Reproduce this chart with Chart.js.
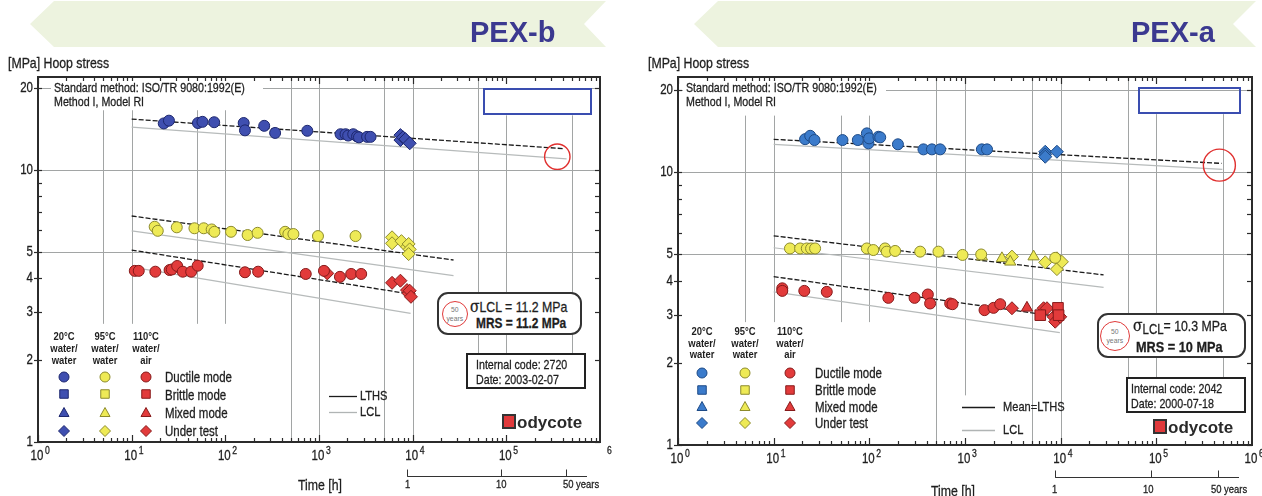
<!DOCTYPE html>
<html>
<head>
<meta charset="utf-8">
<title>Hoop stress - PEX-b / PEX-a</title>
<script src="https://cdn.jsdelivr.net/npm/chart.js@4.4.1/dist/chart.umd.min.js"></script>
<style>
    html, body { margin: 0; padding: 0; }
    body {
        width: 1262px; height: 496px; position: relative; overflow: hidden; background: #fff;
        font-family: "Liberation Sans", Arial, sans-serif; color: #1e1e1e;
    }
    canvas { position: absolute; top: 0; }
    .abs { position: absolute; white-space: nowrap; line-height: 1; }
    /* Liberation Sans squeezed to Arial Narrow proportions */
    .n { transform: scaleX(0.82); transform-origin: 0 0; -webkit-text-stroke: 0.3px #1e1e1e; }
    .pex { position: absolute; top: 16px; font: bold 29px "Liberation Sans", Arial, sans-serif; color: #3b3990; }
    .method { position: absolute; top: 81px; height: 28px; background: #fff; }
    .method div { position: absolute; left: 3px; top: 0; font-size: 13px; line-height: 14px; white-space: nowrap; }
    .bluebox { position: absolute; border: 2px solid #3a4db0; box-sizing: border-box; }
    .hdr { position: absolute; width: 50px; font-weight: bold; font-size: 11.5px; line-height: 12px; text-align: center; transform: scaleX(0.82); transform-origin: 50% 0; }
    .mode { position: absolute; font-size: 14px; }
    .key { position: absolute; font-size: 13.5px; }
    .rbox { position: absolute; border: 2px solid #333; border-radius: 11px; background: #fff; box-sizing: border-box; }
    .c50 { position: absolute; border: 1.5px solid #e03a3a; border-radius: 50%; box-sizing: border-box; text-align: center; color: #777; font-size: 8px; line-height: 9px; padding-top: 3px; }
    .c50 span { display: inline-block; transform: scaleX(0.85); }
    .sig { position: absolute; font-size: 15px; }
    .sig i { font-family: "DejaVu Serif", serif; font-style: normal; font-size: 17px; }
    .sig sub { font-size: 14px; vertical-align: -3px; }
    .mrs { position: absolute; font-weight: bold; }
    .code { position: absolute; border: 2px solid #222; background: #fff; box-sizing: border-box; }
    .code div { position: absolute; top: 2px; font-size: 13px; line-height: 15px; white-space: nowrap; }
    .logo { position: absolute; font: bold 17px "Liberation Sans", Arial, sans-serif; color: #2a2a2a; white-space: nowrap; line-height: 1; }
    .logo span { display: inline-block; width: 10px; height: 11px; background: #e0393b; border: 2px solid #333; color: transparent; overflow: hidden; vertical-align: -1px; margin-right: 1px; font-size: 10px; }
    .yr { position: absolute; font-size: 11.5px; }
</style>
</head>
<body>

<svg class="abs" width="1262" height="50" style="left:0;top:0">
    <polygon points="30,24 54,1 606,1 584,24 606,47 54,47" fill="#edf3df"/>
    <polygon points="694,24 718,1 1256,1 1233,24 1256,47 718,47" fill="#edf3df"/>
</svg>

<canvas id="pexb" width="640" height="496" style="left:0"></canvas>
<canvas id="pexa" width="622" height="496" style="left:640px"></canvas>

<!-- PEX-b (left) -->
<div class="pex" style="left:470px">PEX-b</div>
<div class="abs n" style="left:8px;top:55px;font-size:15px">[MPa] Hoop stress</div>
<div class="method" style="left:51px;width:212px"><div class="n">Standard method: ISO/TR 9080:1992(E)<br>Method I, Model RI</div></div>
<div class="bluebox" style="left:483px;top:88px;width:109px;height:27px"></div>
<div class="hdr" style="left:39px;top:330px">20°C<br>water/<br>water</div>
<div class="hdr" style="left:80px;top:330px">95°C<br>water/<br>water</div>
<div class="hdr" style="left:121px;top:330px">110°C<br>water/<br>air</div>
<div class="abs n mode" style="left:165px;top:370px">Ductile mode</div>
<div class="abs n mode" style="left:165px;top:388px">Brittle mode</div>
<div class="abs n mode" style="left:165px;top:406px">Mixed mode</div>
<div class="abs n mode" style="left:165px;top:424px">Under test</div>
<div class="abs n key" style="left:360px;top:389px">LTHS</div>
<div class="abs n key" style="left:360px;top:405px">LCL</div>
<div class="rbox" style="left:437px;top:292px;width:145px;height:43px">
    <div class="c50" style="left:3px;top:7px;width:26px;height:26px"><span>50<br>years</span></div>
    <div class="abs n sig" style="left:31px;top:4px"><i>σ</i>LCL = 11.2 MPa</div>
    <div class="abs n mrs" style="left:37px;top:22px;font-size:14.5px">MRS = 11.2 MPa</div>
</div>
<div class="code" style="left:466px;top:353px;width:120px;height:36px"><div class="n" style="left:8px">Internal code: 2720<br>Date: 2003-02-07</div></div>
<div class="logo" style="left:502px;top:414px"><span>B</span>odycote</div>
<div class="abs n" style="left:298px;top:477px;font-size:15px">Time [h]</div>
<div class="abs n yr" style="left:405px;top:479px">1</div>
<div class="abs n yr" style="left:496px;top:479px">10</div>
<div class="abs n yr" style="left:563px;top:479px">50 years</div>

<!-- PEX-a (right) -->
<div class="pex" style="left:1131px">PEX-a</div>
<div class="abs n" style="left:648px;top:55px;font-size:15px">[MPa] Hoop stress</div>
<div class="method" style="left:683px;width:203px"><div class="n">Standard method: ISO/TR 9080:1992(E)<br>Method I, Model RI</div></div>
<div class="bluebox" style="left:1138px;top:87px;width:103px;height:27px"></div>
<div class="hdr" style="left:677px;top:326px;line-height:11.5px">20°C<br>water/<br>water</div>
<div class="hdr" style="left:720px;top:326px;line-height:11.5px">95°C<br>water/<br>water</div>
<div class="hdr" style="left:765px;top:326px;line-height:11.5px">110°C<br>water/<br>air</div>
<div class="abs n mode" style="left:815px;top:366px">Ductile mode</div>
<div class="abs n mode" style="left:815px;top:383px">Brittle mode</div>
<div class="abs n mode" style="left:815px;top:400px">Mixed mode</div>
<div class="abs n mode" style="left:815px;top:416px">Under test</div>
<div class="abs n key" style="left:1003px;top:400px">Mean=LTHS</div>
<div class="abs n key" style="left:1003px;top:423px">LCL</div>
<div class="rbox" style="left:1097px;top:313px;width:149px;height:45px">
    <div class="c50" style="left:1px;top:6px;width:30px;height:30px;padding-top:5px"><span>50<br>years</span></div>
    <div class="abs n sig" style="left:34px;top:2px"><i>σ</i><sub>LCL</sub>= 10.3 MPa</div>
    <div class="abs n mrs" style="left:37px;top:24px;font-size:15.5px">MRS = 10 MPa</div>
</div>
<div class="code" style="left:1126px;top:377px;width:120px;height:36px"><div class="n" style="left:3px">Internal code: 2042<br>Date: 2000-07-18</div></div>
<div class="logo" style="left:1153px;top:419px"><span>B</span>odycote</div>
<div class="abs n" style="left:931px;top:483px;font-size:15px">Time [h]</div>
<div class="abs n yr" style="left:1052px;top:484px">1</div>
<div class="abs n yr" style="left:1143px;top:484px">10</div>
<div class="abs n yr" style="left:1211px;top:484px">50 years</div>

<script>
// axes
const timeDecades = [1, 10, 100, 1000, 10000, 100000, 1000000];
const stressTicks = [1, 2, 3, 4, 5, 10, 20];
const stressMinor = [6, 7, 8, 9];
const gridTimes = [5, 10, 50, 100, 500, 1000, 5000, 10000, 50000, 100000, 500000];
const gridStress = [5, 10, 20];
const yearMarks = [1, 10, 50];
const HOURS_PER_YEAR = 8760;

// PEX-b points [time h, hoop stress MPa]
const pexbBlueDuctile = [[22,14.85],[25,15.2],[51,14.9],[57,15.05],[76,15.0],[157,14.9],[162,14.0],[260,14.55],[340,13.7],[750,13.95],[1700,13.55],[1920,13.55],[2050,13.4],[2320,13.55],[2550,13.3],[2670,13.2],[3260,13.25],[3550,13.25]];
const pexbBlueUnderTest = [[7400,13.45],[7400,12.9],[7900,13.2],[8360,13.0],[9300,12.55]];
const pexbYellowDuctile = [[17.6,6.19],[19,5.98],[30.3,6.16],[46.8,6.11],[58.8,6.11],[71.5,6.05],[76.4,5.93],[115,5.93],[173,5.77],[221,5.88],[435,5.93],[471,5.82],[533,5.82],[975,5.72],[2455,5.72]];
const pexbYellowUnderTest = [[6025,5.66],[6025,5.38],[7590,5.48],[8700,5.22],[9060,5.35],[9290,5.11],[9060,4.91]];
const pexbRedDuctile = [[10.8,4.26],[11.9,4.26],[17.9,4.23],[25.4,4.29],[26.8,4.31],[30.6,4.44],[35.1,4.23],[43.2,4.23],[50.7,4.45],[162,4.21],[224,4.23],[722,4.15],[1130,4.26],[1673,4.05],[2206,4.15],[2820,4.15]];
const pexbRedUnderTest = [[1225,4.17],[6025,3.85],[7400,3.92],[8700,3.62],[9060,3.52],[9300,3.6],[9590,3.42]];
// PEX-b regression lines
const pexbLthsBlue = [[10,15.4],[400000,12.0]];
const pexbLclBlue = [[10,14.4],[440000,11.0]];
const pexbLthsYellow = [[10,6.78],[27300,4.67]];
const pexbLclYellow = [[10,5.98],[27300,4.09]];
const pexbLthsRed = [[10,5.08],[9500,3.5]];
const pexbLclRed = [[10,4.4],[9500,2.97]];

// PEX-a points
const pexaBlueDuctile = [[21.3,13.2],[24.1,13.58],[26.7,13.1],[52.4,13.1],[75.8,13.1],[94.2,13.86],[97.9,12.74],[99.5,13.29],[124.5,13.47],[130,13.4],[199,12.64],[368,12.11],[451,12.11],[550,12.11],[1500,12.11],[1700,12.11]];
const pexaBlueUnderTest = [[6900,11.87],[6900,11.6],[6900,11.38],[9140,11.87]];
const pexaYellowDuctile = [[14.8,5.25],[18.9,5.25],[22.2,5.25],[24.6,5.25],[27.1,5.25],[94.2,5.25],[110,5.18],[146,5.25],[152,5.11],[186,5.14],[340,5.11],[528,5.11],[942,4.97],[1476,4.99],[8770,4.85]];
const pexaYellowMixed = [[1503,4.9],[2432,4.83],[2972,4.69],[5210,4.9]];
const pexaYellowUnderTest = [[3096,4.9],[6900,4.67],[9140,4.83],[9140,4.41],[10300,4.69]];
const pexaRedDuctile = [[12.3,3.75],[12.3,3.67],[20.9,3.67],[35.9,3.64],[158,3.46],[297,3.46],[409,3.56],[432,3.3],[700,3.3],[740,3.28],[1600,3.12],[1987,3.18],[2334,3.28]];
const pexaRedBrittle = [[6120,2.99],[9370,3.18],[9510,2.99]];
const pexaRedMixed = [[4443,3.18]];
const pexaRedUnderTest = [[3096,3.17],[6630,3.17],[7190,3.17],[8430,2.95],[8770,2.83],[9900,2.95]];
// PEX-a regression lines
const pexaLthsBlue = [[10,13.18],[480000,10.76]];
const pexaLclBlue = [[10,12.64],[490000,10.23]];
const pexaLthsYellow = [[10,5.84],[28100,4.2]];
const pexaLclYellow = [[10,5.28],[28100,3.78]];
const pexaLthsRed = [[10,4.14],[9800,2.95]];
const pexaLclRed = [[10,3.64],[9800,2.58]];

const FONT = '"Liberation Sans", Arial, sans-serif';
const yellow = { fill: '#eeea56', edge: '#8c8a2c' };
const red = { fill: '#e23b3b', edge: '#861a1a' };

const panels = [
    {
        canvas: 'pexb', yMax: 22,
        padding: { left: 38, right: 40, top: 77, bottom: 54 },
        colors: { blue: { fill: '#3f4fb0', edge: '#1d276e' }, yellow: yellow, red: red },
        points: [
            { data: pexbBlueDuctile, style: 'circle', color: 'blue' },
            { data: pexbBlueUnderTest, style: 'rectRot', color: 'blue' },
            { data: pexbYellowDuctile, style: 'circle', color: 'yellow' },
            { data: pexbYellowUnderTest, style: 'rectRot', color: 'yellow' },
            { data: pexbRedDuctile, style: 'circle', color: 'red' },
            { data: pexbRedUnderTest, style: 'rectRot', color: 'red' }
        ],
        lines: [
            { data: pexbLclBlue, kind: 'lcl' }, { data: pexbLthsBlue, kind: 'lths' },
            { data: pexbLclYellow, kind: 'lcl' }, { data: pexbLthsYellow, kind: 'lths' },
            { data: pexbLclRed, kind: 'lcl' }, { data: pexbLthsRed, kind: 'lths' }
        ],
        gridSpan: { 5: [2.72, 16.6], 10: [2.72, 16.6], 50: [2.72, 16.6], 100: [2.72, 16.6],
                    50000: [2.1, 22], 100000: [2.1, 15.9], 500000: [2.1, 15.9] },
        legendCols: [64, 105, 146], legendRows: [377, 394, 413, 431],
        key: { x1: 329, x2: 357, lths: 396, lcl: 412 },
        ring: { t: 350000, s: 11.2, r: 12.7 },
        yearsGap: 34, showLastBase: false
    },
    {
        canvas: 'pexa', yMax: 22.3,
        padding: { left: 38, right: 10, top: 77, bottom: 51 },
        colors: { blue: { fill: '#3b7bcb', edge: '#1d4a86' }, yellow: yellow, red: red },
        points: [
            { data: pexaBlueDuctile, style: 'circle', color: 'blue' },
            { data: pexaBlueUnderTest, style: 'rectRot', color: 'blue' },
            { data: pexaYellowDuctile, style: 'circle', color: 'yellow' },
            { data: pexaYellowMixed, style: 'triangle', color: 'yellow' },
            { data: pexaYellowUnderTest, style: 'rectRot', color: 'yellow' },
            { data: pexaRedDuctile, style: 'circle', color: 'red' },
            { data: pexaRedBrittle, style: 'rect', color: 'red' },
            { data: pexaRedMixed, style: 'triangle', color: 'red' },
            { data: pexaRedUnderTest, style: 'rectRot', color: 'red' }
        ],
        lines: [
            { data: pexaLclBlue, kind: 'lcl' }, { data: pexaLthsBlue, kind: 'lths' },
            { data: pexaLclYellow, kind: 'lcl' }, { data: pexaLthsYellow, kind: 'lths' },
            { data: pexaLclRed, kind: 'lcl' }, { data: pexaLthsRed, kind: 'lths' }
        ],
        gridSpan: { 5: [2.82, 16.1], 10: [2.82, 16.1], 50: [2.82, 16.1], 100: [2.82, 16.1],
                    1000: [1.52, 22.3], 50000: [1.77, 22.3], 100000: [1.77, 16.3], 500000: [1.77, 16.3] },
        legendCols: [62, 105, 150], legendRows: [373, 390, 407, 423],
        key: { x1: 322, x2: 355, lths: 407, lcl: 430 },
        ring: { t: 456000, s: 10.6, r: 16 },
        yearsGap: 32, showLastBase: true
    }
];

function toXY(arr) {
    return arr.map(p => ({ x: p[0], y: p[1] }));
}

function seg(ctx, x1, y1, x2, y2) {
    ctx.beginPath();
    ctx.moveTo(x1, y1);
    ctx.lineTo(x2, y2);
    ctx.stroke();
}

// narrow text on the canvas (same squeeze as the .n class)
function narrowText(ctx, text, px, py) {
    ctx.save();
    ctx.translate(px, py);
    ctx.scale(0.82, 1);
    ctx.fillText(text, 0, 0);
    ctx.lineWidth = 0.3;
    ctx.strokeStyle = ctx.fillStyle;
    ctx.strokeText(text, 0, 0);
    ctx.restore();
}

// legend swatches (not data)
function drawMarker(ctx, style, cx, cy, r, c) {
    ctx.beginPath();
    if (style === 'circle') {
        ctx.arc(cx, cy, r, 0, Math.PI * 2);
    } else if (style === 'rect') {
        ctx.rect(cx - r * 0.85, cy - r * 0.85, r * 1.7, r * 1.7);
    } else if (style === 'triangle') {
        ctx.moveTo(cx, cy - r * 1.1);
        ctx.lineTo(cx + r, cy + r * 0.7);
        ctx.lineTo(cx - r, cy + r * 0.7);
        ctx.closePath();
    } else {
        ctx.moveTo(cx, cy - r);
        ctx.lineTo(cx + r, cy);
        ctx.lineTo(cx, cy + r);
        ctx.lineTo(cx - r, cy);
        ctx.closePath();
    }
    ctx.fillStyle = c.fill;
    ctx.fill();
    ctx.strokeStyle = c.edge;
    ctx.lineWidth = 1;
    ctx.stroke();
}

function decor(p) {
    return {
        id: 'decor_' + p.canvas,
        beforeDatasetsDraw(chart) {
            const { ctx, chartArea: a, scales: { x, y } } = chart;
            ctx.save();
            ctx.strokeStyle = '#a2a5a5';
            ctx.lineWidth = 1;
            gridStress.forEach(v => {
                const py = Math.round(y.getPixelForValue(v)) + 0.5;
                seg(ctx, a.left, py, a.right, py);
            });
            gridTimes.forEach(t => {
                const span = p.gridSpan[t] || [1, p.yMax];
                const px = Math.round(x.getPixelForValue(t)) + 0.5;
                seg(ctx, px, y.getPixelForValue(span[1]), px, y.getPixelForValue(span[0]));
            });
            ctx.restore();
        },
        afterDatasetsDraw(chart) {
            const { ctx, chartArea: a, scales: { x, y } } = chart;
            ctx.save();

            // 50 years ring
            ctx.strokeStyle = '#e0302f';
            ctx.lineWidth = 1.4;
            ctx.beginPath();
            ctx.arc(x.getPixelForValue(p.ring.t), y.getPixelForValue(p.ring.s), p.ring.r, 0, Math.PI * 2);
            ctx.stroke();

            // frame
            ctx.strokeStyle = '#2b2b2b';
            ctx.lineWidth = 2;
            ctx.strokeRect(a.left, a.top, a.right - a.left, a.bottom - a.top);

            // log ticks on top / bottom
            ctx.lineWidth = 1.2;
            for (let d = 1; d < 1e6; d *= 10) {
                for (let m = 1; m < 10; m++) {
                    const px = Math.round(x.getPixelForValue(d * m)) + 0.5;
                    const len = m === 1 ? 7 : 4;
                    seg(ctx, px, a.top, px, a.top + len);
                    seg(ctx, px, a.bottom, px, a.bottom - len);
                }
            }
            // stress ticks left / right
            stressTicks.concat(stressMinor).forEach(v => {
                const py = Math.round(y.getPixelForValue(v)) + 0.5;
                seg(ctx, a.right, py, a.right - 5, py);
                if (stressMinor.includes(v)) seg(ctx, a.left, py, a.left + 4, py);
                else seg(ctx, a.left - 4, py, a.left + 4, py);
            });

            // tick labels
            ctx.fillStyle = '#1e1e1e';
            ctx.font = '14px ' + FONT;
            ctx.textAlign = 'right';
            ctx.textBaseline = 'middle';
            stressTicks.forEach(v => narrowText(ctx, String(v), a.left - 5, y.getPixelForValue(v)));

            timeDecades.forEach((t, i) => {
                const px = x.getPixelForValue(t);
                const last = i === timeDecades.length - 1;
                ctx.textBaseline = 'top';
                if (!last || p.showLastBase) {
                    ctx.font = '14px ' + FONT;
                    ctx.textAlign = 'center';
                    narrowText(ctx, '10', px - 1, a.bottom + 7);
                }
                ctx.font = '10.5px ' + FONT;
                ctx.textAlign = 'left';
                narrowText(ctx, String(i), px + 7, a.bottom + 4);
            });

            // time in years under the axis
            const yy = a.bottom + p.yearsGap + 0.5;
            ctx.strokeStyle = '#333';
            ctx.lineWidth = 1;
            seg(ctx, x.getPixelForValue(yearMarks[0] * HOURS_PER_YEAR), yy, a.right - 13, yy);
            yearMarks.forEach(yr => {
                const px = Math.round(x.getPixelForValue(yr * HOURS_PER_YEAR)) + 0.5;
                seg(ctx, px, yy, px, yy - 7);
            });

            // LTHS / LCL key lines
            ctx.lineWidth = 1.3;
            ctx.strokeStyle = '#1b1b1b';
            seg(ctx, p.key.x1, p.key.lths + 0.5, p.key.x2, p.key.lths + 0.5);
            ctx.strokeStyle = '#b0b4b4';
            seg(ctx, p.key.x1, p.key.lcl + 0.5, p.key.x2, p.key.lcl + 0.5);

            // marker legend
            const rowStyles = ['circle', 'rect', 'triangle', 'rectRot'];
            const colColors = ['blue', 'yellow', 'red'];
            colColors.forEach((cName, ci) => {
                rowStyles.forEach((st, ri) => {
                    drawMarker(ctx, st, p.legendCols[ci], p.legendRows[ri], st === 'rectRot' ? 5.5 : 5, p.colors[cName]);
                });
            });
            ctx.restore();
        }
    };
}

function buildChart(p) {
    const datasets = [];
    p.lines.forEach(l => {
        const lths = l.kind === 'lths';
        datasets.push({
            type: 'line',
            data: toXY(l.data),
            borderColor: lths ? '#1b1b1b' : '#b7bbbb',
            borderWidth: lths ? 1.3 : 1.2,
            borderDash: lths ? [5, 2] : [],
            pointRadius: 0,
            fill: false,
            order: 2
        });
    });
    p.points.forEach(s => {
        const c = p.colors[s.color];
        datasets.push({
            type: 'scatter',
            data: toXY(s.data),
            pointStyle: s.style,
            pointRadius: s.style === 'circle' ? 5.5 : (s.style === 'rect' ? 7.5 : 6.5),
            backgroundColor: c.fill,
            borderColor: c.edge,
            borderWidth: 1,
            order: 1
        });
    });

    new Chart(document.getElementById(p.canvas), {
        type: 'scatter',
        data: { datasets: datasets },
        options: {
            responsive: false,
            animation: false,
            events: [],
            layout: { padding: p.padding },
            plugins: { legend: { display: false }, tooltip: { enabled: false } },
            scales: {
                x: { type: 'logarithmic', min: 1, max: 1e6, display: false },
                y: { type: 'logarithmic', min: 1, max: p.yMax, display: false }
            }
        },
        plugins: [decor(p)]
    });
}

panels.forEach(buildChart);
</script>
</body>
</html>
